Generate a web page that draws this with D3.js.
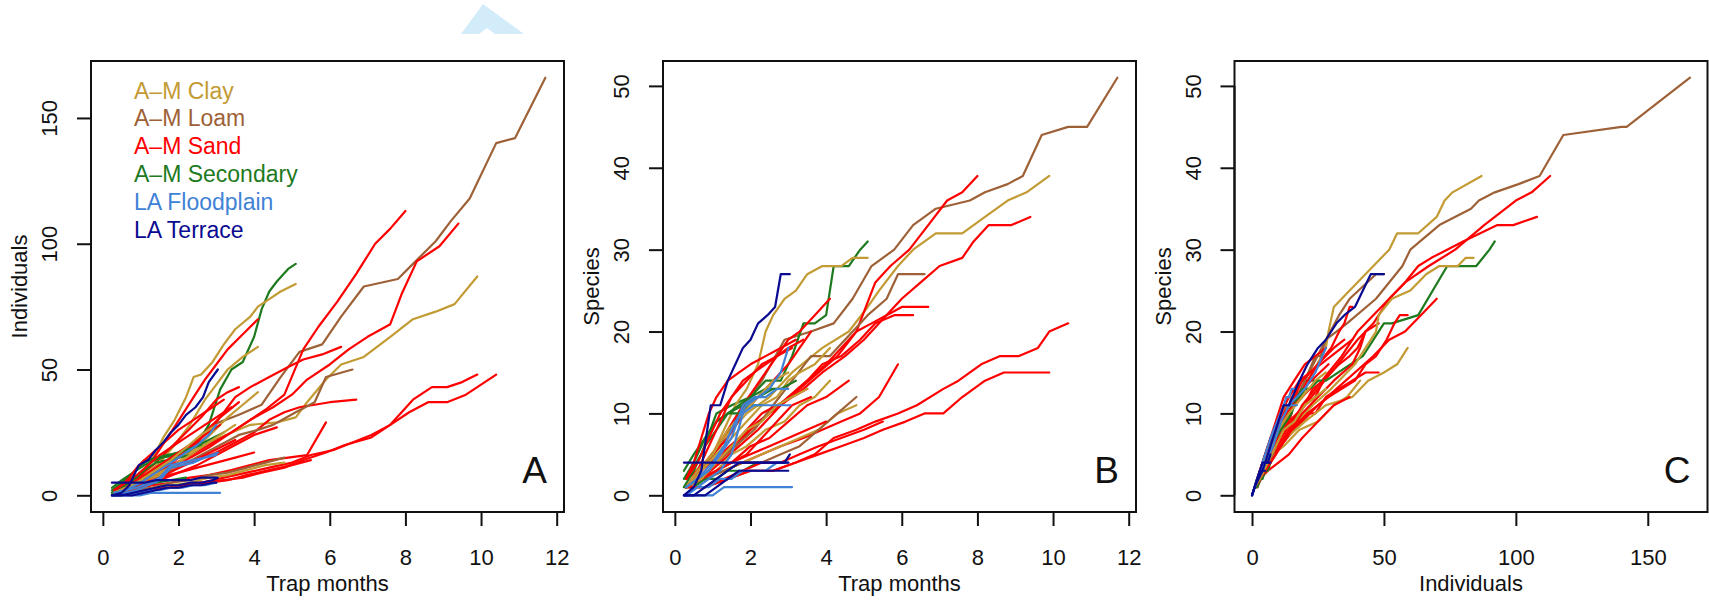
<!DOCTYPE html>
<html><head><meta charset="utf-8">
<script src="https://cdn.jsdelivr.net/npm/d3@7"></script>
<style>body{margin:0;background:#fff}svg{display:block}</style></head>
<body>
<svg id="c" width="1709" height="602"></svg>
<script>
// ---------- data ----------
const habitats = ["A\u2013M Clay","A\u2013M Loam","A\u2013M Sand","A\u2013M Secondary","LA Floodplain","LA Terrace"];
const habitatColors = ["#C39B34","#9E6137","#FF0000","#1E7A1E","#3F82D6","#0A0A90"];

const siteHabitat = [1,0,2,2,2,2,3,0,2,2,2,1,0,0,2,2,2,2,0,1,3,3,3,3,2,2,2,2,2,2,0,0,4,4,4,4,4,5,5,5,5];

const siteMonths = [
 [0.3,0.7,1.2,1.7,2.3,2.9,3.6,4.2,4.7,5.2,5.8,6.3,6.9,7.8,8.2,8.8,9.2,9.7,10.4,10.9,11.7],
 [0.3,0.8,1.3,1.9,2.5,3.1,3.9,4.6,5.1,5.4,5.9,6.3,6.9,7.6,8.2,8.8,9.3,9.9],
 [0.3,0.7,1.2,1.7,2.2,2.8,3.3,3.8,4.3,4.8,5.3,5.7,6.2,6.7,7.2,7.6,8.0],
 [0.3,0.7,1.2,1.7,2.2,2.8,3.4,3.9,4.5,5.0,5.4,6.0,6.5,7.0,7.6,7.9,8.3,8.9,9.4],
 [0.3,0.8,1.4,2.0,2.6,3.2,3.7,4.2,4.8,5.3,5.9,6.4,7.1,7.5,8.1,8.6,9.1,9.6,9.9,10.4],
 [0.3,0.8,1.4,2.0,2.6,3.2,3.8,4.4,5.0,5.5,6.1,6.6,7.1,7.6,8.2,8.7,9.1,9.5,9.9],
 [0.3,0.7,1.1,1.5,2.0,2.4,2.8,3.1,3.4,3.7,4.0,4.2,4.4,4.6,4.9,5.1],
 [0.3,0.6,1.0,1.3,1.6,1.9,2.2,2.4,2.6,2.9,3.2,3.5,3.9,4.1,4.4,4.7,5.1],
 [0.3,0.6,1.0,1.4,1.8,2.1,2.4,2.7,3.0,3.3,3.7,4.1],
 [0.3,0.7,1.1,1.6,2.0,2.5,3.0,3.5,3.9,4.4,4.9,5.3,5.8,6.3],
 [0.3,0.7,1.1,1.5,2.0,2.5,3.0,3.5,4.0,4.4,4.8,5.2,5.6,6.0,6.7],
 [0.3,0.7,1.1,1.6,2.1,2.6,3.1,3.6,4.1,4.5,5.1,5.6,5.9,6.6],
 [0.3,0.7,1.1,1.5,1.9,2.3,2.7,3.0,3.3,3.7,4.1],
 [0.3,0.7,1.1,1.5,1.9,2.4,2.9,3.3,3.7,4.1],
 [0.3,0.6,1.0,1.4,1.8,2.2,2.6,3.0,3.3,3.6],
 [0.3,0.7,1.1,1.5,1.9,2.3,2.7,3.1,3.6],
 [0.3,0.8,1.3,1.8,2.3,2.8,3.4,3.9,4.4,4.9,5.4,5.9],
 [0.3,0.7,1.1,1.5,2.0,2.5,3.0,3.5,4.0,4.6],
 [0.3,0.8,1.3,1.8,2.3,2.8,3.3,3.8,4.3,4.8],
 [0.3,0.8,1.3,1.8,2.3,2.8,3.3,3.8,4.3,4.8],
 [0.24,0.5,0.8,1.1,1.4,1.7,2.0,2.4,2.8,3.2],
 [0.24,0.5,0.8,1.1,1.4,1.7,2.0,2.3],
 [0.24,0.5,0.8,1.1,1.4,1.8,2.2,2.6],
 [0.24,0.5,0.8,1.1,1.4,1.8,2.2],
 [0.3,0.6,0.9,1.2,1.5,1.8,2.1,2.4,2.7,3.0,3.4],
 [0.3,0.6,0.9,1.2,1.5,1.9,2.3,2.7,3.1],
 [0.3,0.7,1.1,1.5,1.9,2.3,2.7,3.1,3.5],
 [0.3,0.7,1.1,1.5,2.0,2.5,3.0,3.5,4.0],
 [0.3,0.5,0.7,0.9,1.1,1.4,1.7,2.0,2.4,2.8,3.2],
 [0.3,0.8,1.3,1.8,2.3,2.8,3.3,3.8,4.4,5.0,5.5],
 [0.3,0.7,1.1,1.5,1.9,2.3,2.7,3.1,3.5],
 [0.3,0.6,1.0,1.4,1.8,2.2,2.6,3.0],
 [0.24,0.5,0.8,1.0,1.3,1.6,2.0,2.4,2.8,3.1],
 [0.3,0.6,1.0,1.3,1.6,1.9,2.2,2.5,2.8,3.0],
 [0.3,0.6,0.9,1.2,1.5,1.8,2.1,2.4,2.7,3.05],
 [0.3,0.6,0.9,1.2,1.5,1.8,2.1,2.4,2.7,3.0],
 [0.3,0.6,0.9,1.2,1.5,1.8,2.1,2.4,2.7,3.0],
 [0.24,0.5,0.7,0.95,1.2,1.4,1.6,1.8,2.0,2.2,2.45,2.65,2.8,3.04],
 [0.24,0.5,0.8,1.1,1.4,1.7,2.0,2.3,2.6,2.9,3.04],
 [0.24,0.5,0.8,1.1,1.4,1.7,2.0,2.3,2.6,2.9,3.0],
 [0.24,0.5,0.8,1.1,1.4,1.7,2.0,2.3,2.6,2.9,3.0]
];

const siteIndividuals = [
 [2,5,9,14,20,28,32,36,47,57,60,71,83,86,92,101,109,118,140,142,166],
 [2,5,9,14,19,23,28,29,31,37,46,52,55,63,70,73,76,87],
 [1,3,6,10,14,19,24,29,34,40,58,67,77,88,100,106,113],
 [1,4,7,11,15,20,25,30,35,40,46,52,58,63,68,80,93,99,108],
 [1,2,3,4,5,6,7,9,11,14,17,20,23,27,33,37,37,40,43,48],
 [1,2,3,4,5,7,9,11,13,16,18,21,24,28,38,43,43,45,48],
 [2,7,14,15,16,18,28,42,50,53,63,74,81,85,90,92],
 [2,5,9,14,23,30,39,47,48,53,60,66,71,75,78,81,84],
 [2,4,8,16,25,32,39,46,52,58,64,70],
 [1,3,6,10,15,21,29,39,43,47,51,54,56,59],
 [1,3,5,8,11,14,17,21,25,30,33,35,36,37,38],
 [1,3,5,8,12,16,20,24,26,28,33,37,47,50],
 [1,4,8,13,20,28,38,44,50,55,59],
 [1,3,5,8,12,18,25,31,36,41],
 [2,4,8,13,19,25,31,38,41,43],
 [1,3,6,10,14,19,25,31,37],
 [1,2,4,5,7,8,10,12,14,15,16,29],
 [1,2,4,6,9,12,16,20,24,27],
 [1,2,3,4,5,7,8,10,12,13],
 [1,2,3,5,6,8,9,11,13,15],
 [2,5,9,13,15,16,17,19,22,25],
 [1,3,6,10,13,14,15,16],
 [3,6,9,12,14,16,18,20],
 [1,2,3,4,5,6,7],
 [2,5,8,12,16,19,22,25,28,31,35],
 [1,3,6,9,12,16,20,24,28],
 [1,2,4,7,10,13,16,19,22],
 [1,3,5,7,9,11,13,15,17],
 [2,4,7,11,14,18,22,26,30,34,38],
 [1,1,2,3,4,5,6,8,10,12,14],
 [1,3,6,9,12,16,20,24,28],
 [1,3,6,10,14,19,24,28],
 [0,0,0,0,1,1,1,1,1,1],
 [1,2,5,8,11,14,17,20,24,28],
 [0,1,2,4,6,11,12,13,15,17],
 [1,2,3,5,7,12,13,14,15,16],
 [0,1,1,2,2,3,3,4,4,5],
 [0,1,4,12,14,18,21,25,28,32,35,39,45,50],
 [0,0,1,2,3,4,4,5,5,6,7],
 [5,5,5,5,6,6,6,6,7,7,7],
 [0,0,0,1,2,3,3,4,4,5,5]
];

const siteSpecies = [
 [1,3,6,10,14,19,20,21,24,28,30,33,35,36,37,38,39,44,45,45,51],
 [2,4,7,10,12,15,18,20,23,25,28,30,32,32,34,36,37,39],
 [1,2,4,6,8,11,13,15,17,20,26,28,30,33,36,37,39],
 [1,3,5,7,9,11,13,15,17,19,21,24,26,28,29,31,33,33,34],
 [1,1,2,3,3,4,5,7,8,9,10,11,13,14,16,17,17,18,20,21],
 [1,1,2,3,3,4,5,6,7,8,9,10,10,12,14,15,15,15,15],
 [2,5,10,11,12,14,14,17,21,21,22,28,28,28,30,31],
 [2,3,5,8,11,13,16,20,22,24,25,27,28,28,28,29,29],
 [2,3,5,8,11,13,15,17,19,20,22,24],
 [1,2,4,6,8,10,12,14,16,17,19,21,22,22],
 [1,2,4,6,8,10,12,14,16,18,20,21,22,23,23],
 [1,2,4,6,8,11,14,17,17,19,22,24,27,27],
 [1,3,5,7,9,11,12,14,15,16,18],
 [1,2,3,5,6,8,9,11,12,14],
 [2,3,5,7,10,12,14,16,18,20],
 [1,2,3,4,5,7,9,11,12],
 [1,2,3,4,5,6,7,8,9,10,12,16],
 [1,2,3,4,6,7,9,11,12,14],
 [1,2,3,4,5,6,7,8,10,11],
 [1,2,3,4,4,5,6,8,10,12],
 [2,4,7,9,10,11,12,13,13,14],
 [1,3,6,8,10,10,11,11],
 [3,5,7,9,10,11,12,13],
 [1,1,2,2,3,3,4],
 [2,4,7,10,12,14,15,16,17,18,19],
 [1,3,6,9,12,14,16,17,18],
 [1,2,4,6,8,10,11,12,13],
 [1,2,3,4,5,6,7,8,9],
 [2,4,7,10,12,14,15,16,17,18,19],
 [1,1,2,3,4,4,5,6,7,8,9],
 [1,2,4,6,8,9,11,12,13],
 [1,3,5,8,10,12,14,15],
 [0,0,0,0,1,1,1,1,1,1],
 [1,2,4,6,9,11,12,13,15,18],
 [0,1,2,3,5,10,11,11,11,11],
 [1,2,3,5,7,11,12,12,13,13],
 [0,1,1,2,2,3,3,3,4,4],
 [0,1,3,11,11,14,16,18,19,21,22,23,27,27],
 [0,0,1,2,3,4,4,4,4,4,5],
 [4,4,4,4,4,4,4,4,4,4,4],
 [0,0,0,1,2,3,3,3,3,3,3]
];

const monthTicks = [0,2,4,6,8,10,12];
const individualTicks = [0,50,100,150];
const speciesTicks = [0,10,20,30,40,50];

// ---------- layout ----------
const svg = d3.select("#c");
const FONT = "'Liberation Sans', Arial, Helvetica, sans-serif";
const TOP = 61, H = 451, W = 473;

// faint watermark chevron at top
svg.append("path")
  .attr("d","M461,34 L483,4 L524,34 L495,34 L487,28 L479,34 Z")
  .attr("fill","#d3ecfa");

function pad(lo, hi){ const r = hi - lo; return [lo - 0.04*r, hi + 0.04*r]; }

const panels = [
  {left:91, xs:siteMonths, ys:siteIndividuals, xd:pad(0.15,11.73), yd:pad(0,166),
   xt:monthTicks, yt:individualTicks, xl:"Trap months", yl:"Individuals", tag:"A", legend:true},
  {left:663, xs:siteMonths, ys:siteSpecies, xd:pad(0.15,11.73), yd:pad(0,51),
   xt:monthTicks, yt:speciesTicks, xl:"Trap months", yl:"Species", tag:"B"},
  {left:1234.5, xs:siteIndividuals, ys:siteSpecies, xd:pad(0,166), yd:pad(0,51),
   xt:individualTicks, yt:speciesTicks, xl:"Individuals", yl:"Species", tag:"C"}
];

panels.forEach(p => {
  const x = d3.scaleLinear().domain(p.xd).range([p.left, p.left + W]);
  const y = d3.scaleLinear().domain(p.yd).range([TOP + H, TOP]);
  const g = svg.append("g");

  // lines
  const line = d3.line().x(d => x(d[0])).y(d => y(d[1]));
  siteHabitat.forEach((h, i) => {
    const pts = p.xs[i].map((v, k) => [v, p.ys[i][k]]);
    g.append("path").datum(pts).attr("d", line)
      .attr("fill","none").attr("stroke", habitatColors[h])
      .attr("stroke-width", 2.2).attr("stroke-linejoin","round").attr("stroke-linecap","round");
  });

  // box
  g.append("rect").attr("x", p.left).attr("y", TOP).attr("width", W).attr("height", H)
    .attr("fill","none").attr("stroke","#111").attr("stroke-width",2);

  // x axis
  const xa = g.append("g").attr("transform", `translate(0,${TOP + H})`)
    .call(d3.axisBottom(x).tickValues(p.xt).tickSize(14).tickSizeOuter(0).tickFormat(d3.format("d")));
  xa.select(".domain").remove();
  xa.append("line").attr("x1", x(p.xt[0])).attr("x2", x(p.xt[p.xt.length-1]))
    .attr("y1",0).attr("y2",0).attr("stroke","#111").attr("stroke-width",2);
  xa.selectAll(".tick line").attr("stroke","#111").attr("stroke-width",2);
  xa.selectAll(".tick text").attr("y", 53).attr("dy", 0)
    .attr("font-family", FONT).attr("font-size", 22).attr("fill","#111");

  // y axis
  const ya = g.append("g").attr("transform", `translate(${p.left},0)`)
    .call(d3.axisLeft(y).tickValues(p.yt).tickSize(14).tickSizeOuter(0).tickFormat(d3.format("d")));
  ya.select(".domain").remove();
  ya.append("line").attr("y1", y(p.yt[0])).attr("y2", y(p.yt[p.yt.length-1]))
    .attr("x1",0).attr("x2",0).attr("stroke","#111").attr("stroke-width",2);
  ya.selectAll(".tick line").attr("stroke","#111").attr("stroke-width",2);
  ya.selectAll(".tick text").attr("x", 0).attr("y", -34).attr("dy", 0)
    .attr("transform","rotate(-90)").attr("text-anchor","middle")
    .attr("font-family", FONT).attr("font-size", 22).attr("fill","#111");

  // titles
  g.append("text").attr("x", p.left + W/2).attr("y", 591).attr("text-anchor","middle")
    .attr("font-family", FONT).attr("font-size", 22).attr("fill","#111").text(p.xl);
  g.append("text").attr("transform", `translate(${p.left - 64},${TOP + H/2}) rotate(-90)`)
    .attr("text-anchor","middle").attr("font-family", FONT).attr("font-size", 22)
    .attr("fill","#111").text(p.yl);

  // panel letter
  g.append("text").attr("x", p.left + W - 17).attr("y", 483).attr("text-anchor","end")
    .attr("font-family", FONT).attr("font-size", 37).attr("fill","#111").text(p.tag);

  if (p.legend) {
    habitats.forEach((name, i) => {
      g.append("text").attr("x", 134).attr("y", 98.5 + 27.8*i)
        .attr("font-family", FONT).attr("font-size", 23)
        .attr("fill", habitatColors[i]).text(name);
    });
  }
});
</script>
</body></html>
